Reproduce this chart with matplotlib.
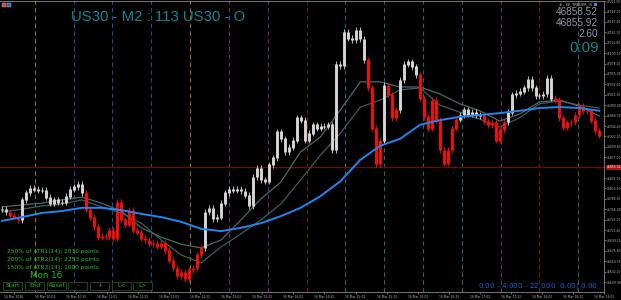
import matplotlib.pyplot as plt
from matplotlib.patches import Rectangle

# closes of the M2 candles (one value per bar)
closes = [46766, 46760, 46753, 46749, 46743, 46786, 46801, 46811, 46809, 46807,
          46807, 46792, 46779, 46786, 46781, 46781, 46794, 46809, 46814, 46820,
          46801, 46766, 46749, 46728, 46706, 46708, 46708, 46721, 46704, 46781,
          46743, 46734, 46764, 46721, 46717, 46704, 46700, 46693, 46693, 46687,
          46693, 46678, 46657, 46640, 46623, 46631, 46618, 46636, 46640, 46668,
          46683, 46760, 46768, 46745, 46749, 46779, 46801, 46809, 46807, 46809,
          46805, 46796, 46773, 46835, 46854, 46829, 46826, 46861, 46876, 46932,
          46917, 46889, 46899, 46914, 46962, 46957, 46914, 46929, 46947, 46940,
          46944, 46944, 46947, 46893, 47077, 47073, 47146, 47133, 47129, 47150,
          47131, 47086, 47026, 46940, 46863, 46914, 47032, 47011, 46962, 46979,
          47043, 47077, 47082, 47071, 47054, 47004, 46964, 46940, 47000, 46957,
          46893, 46865, 46893, 46940, 46959, 46968, 46979, 46970, 46974, 46968,
          46966, 46955, 46947, 46953, 46914, 46936, 46953, 46974, 47011, 47015,
          47019, 47026, 47045, 47026, 47009, 47009, 47013, 47047, 47004, 47000,
          46962, 46942, 46951, 46953, 46968, 46987, 46977, 46977, 46957, 46934,
          46925]

# bar ranges drawn in red (bearish colouring)
red_spans = [(2, 4), (21, 50), (92, 95), (97, 99), (105, 114), (121, 126), (139, 150)]

# moving averages, sampled every 5 bars
ma_bars = list(range(0, 151, 5))
ma_blue = [46741, 46749, 46758, 46762, 46769, 46769, 46764, 46756, 46749, 46739,
           46724, 46719, 46726, 46736, 46751, 46769, 46794, 46826, 46872, 46902,
           46917, 46947, 46957, 46964, 46968, 46972, 46977, 46983, 46985, 46983,
           46977]
ma_fast = [46771, 46775, 46779, 46786, 46792, 46779, 46762, 46726, 46706, 46691,
           46683, 46700, 46743, 46788, 46824, 46889, 46921, 46979, 47039, 47039,
           47028, 47028, 47013, 46992, 46977, 46955, 46970, 46996, 47000, 46987,
           46966]
ma_slow = [46760, 46766, 46773, 46777, 46786, 46771, 46758, 46736, 46700, 46668,
           46651, 46685, 46713, 46743, 46777, 46829, 46882, 46929, 46985, 47000,
           47022, 47026, 46989, 46974, 46959, 46942, 46962, 46992, 46998, 46989,
           46983]

# session separators
vline_bars = [8.25, 18.0, 27.75, 37.5, 47.25, 57.0, 66.75, 76.5, 86.25, 96.0,
              105.75, 115.5, 125.25, 135.0, 144.75]
vline_colors = ['#8a7418', '#1d4f86', '#1d4f86', '#1d4f86', '#8a7418', '#7a1f86',
                '#7a1f86', '#7a1414', '#1b6b6b', '#1b6b6b', '#1b6b6b', '#1b6b6b',
                '#7a1f86', '#7a1414', '#1b6b6b']

bid = 46855.92
ask = 46858.52
spread = 2.60

ytick_vals = [46609.90 + 22.30 * k for k in range(28) if k != 11]
xtick_labels = ['16 Mar 2026', '16 Mar 10:02', '16 Mar 10:32', '16 Mar 11:02', '16 Mar 11:32',
                '16 Mar 12:02', '16 Mar 12:32', '16 Mar 13:02', '16 Mar 13:32', '16 Mar 14:02',
                '16 Mar 14:32', '16 Mar 15:02', '16 Mar 15:32', '16 Mar 16:02', '16 Mar 16:32',
                '16 Mar 17:02', '16 Mar 17:32', '16 Mar 18:02', '16 Mar 18:32', '16 Mar 19:02']

atr_lines = ['250% of ATR1(14): 2816 points',
             '200% of ATR2(14): 2253 points',
             '150% of ATR3(14): 1690 points']
buttons = ['Start', 'End', 'Reset', '-', '+', 'L<', 'L>']

W, H = 621, 300
YLO, YHI = 46588.5, 47212.4
fig = plt.figure(figsize=(W / 100, H / 100), dpi=100, facecolor='black')
ax = fig.add_axes([0, 8 / H, 604 / W, 291 / H])
ax.set_facecolor('black')

for xb, c in zip(vline_bars, vline_colors):
    ax.axvline(xb, color=c, lw=0.8, ls=(0, (4, 3)), zorder=1)

ax.axhline(bid, color='#6e0a0a', lw=0.9, zorder=1)

# candles
for i, c in enumerate(closes):
    o = closes[i - 1] if i > 0 else c
    red = any(a <= i <= b for a, b in red_spans)
    col = '#ff0a0a' if red else '#d6d6d6'
    lo, hi = min(o, c), max(o, c)
    ax.vlines(i, lo - 7, hi + 6, color=col, lw=0.6, zorder=3)
    ax.vlines(i, lo - 1, hi + 1, color=col, lw=2.1, zorder=3)

ax.plot(ma_bars, ma_slow, color='#3c5e5c', lw=0.9, zorder=2)
ax.plot(ma_bars, ma_fast, color='#4a6b68', lw=0.9, zorder=2)
ax.plot(ma_bars, ma_blue, color='#1e88f0', lw=1.4, zorder=4)

ax.set_xlim(-0.5, 150.5)
ax.set_ylim(YLO, YHI)

ax.yaxis.tick_right()
ax.set_yticks(ytick_vals)
ax.set_yticklabels([f'{v:.2f}' for v in ytick_vals])
ax.set_xticks([3.0 + 7.8 * k for k in range(len(xtick_labels))])
ax.set_xticklabels(xtick_labels)
ax.tick_params(axis='both', labelsize=2.2, colors='#b8b8b8', length=1.5, width=0.4, pad=0.6)
ax.spines['left'].set_visible(False)
for s in ['right', 'bottom', 'top']:
    ax.spines[s].set_color('#8a8a8a')
    ax.spines[s].set_linewidth(0.6)

# bid label on the price scale
ax.text(1.004, (bid - YLO) / (YHI - YLO), f'{bid:.2f}', transform=ax.transAxes,
        fontsize=2.2, color='white', va='center', ha='left',
        bbox=dict(boxstyle='square,pad=0.2', fc='#b01010', ec='none'))


def px(x, y):
    return x / W, 1 - y / H


fig.text(*px(71, 17), 'US30 - M2 : 113 US30 - O', color='#12868c', fontsize=10.8,
         family='Liberation Sans', va='center', ha='left')

fig.text(*px(598, 12), f'{ask:.2f}', color='#8c9aa6', fontsize=7.2, family='Liberation Sans',
         ha='right', va='center')
fig.text(*px(598, 23), f'{bid:.2f}', color='#8c9aa6', fontsize=7.2, family='Liberation Sans',
         ha='right', va='center')
fig.text(*px(598, 34), f'{spread:.2f}', color='#8c9aa6', fontsize=7.2, family='Liberation Sans',
         ha='right', va='center')
fig.text(*px(599, 48), '0:09', color='#12868c', fontsize=11, family='Liberation Sans',
         ha='right', va='center')
fig.text(*px(592, 4), '# - XE_TRADER_III', color='#c8c8c8', fontsize=2.6, ha='right', va='center')
fig.patches.append(Rectangle(px(594, 6), 3 / W, 3 / H, transform=fig.transFigure,
                             fc='#3a8ae0', ec='none'))
fig.patches.append(Rectangle(px(2, 7), 4 / W, 4 / H, transform=fig.transFigure,
                             fc='#d04040', ec='#c0c0c0', lw=0.3))
fig.patches.append(Rectangle(px(7, 7), 4 / W, 4 / H, transform=fig.transFigure,
                             fc='#4060c0', ec='#c0c0c0', lw=0.3))

for k, t in enumerate(atr_lines):
    fig.text(*px(7, 252 + 8 * k), t, color='#22c022', fontsize=4.2, ha='left', va='center')
fig.text(*px(46, 275.5), 'Mon 16', color='#22c022', fontsize=6.3, ha='center', va='center')

bx = [3, 25, 47, 68, 90, 112, 133]
for x0, t in zip(bx, buttons):
    fig.patches.append(Rectangle(px(x0, 289.5), 19 / W, 8 / H, transform=fig.transFigure,
                                 fc='black', ec='#2c4a2c', lw=0.6))
    fig.text(*px(x0 + 9.5, 285.7), t, color='#22c022', fontsize=4.2, ha='center', va='center')

fig.text(*px(598, 287), '0.00 - 4,000 - 22,000  $ 0.00 | $ 0.00', color='#1d62c8',
         fontsize=5.2, ha='right', va='center')

fig.savefig('out.png', dpi=100, facecolor='black')
